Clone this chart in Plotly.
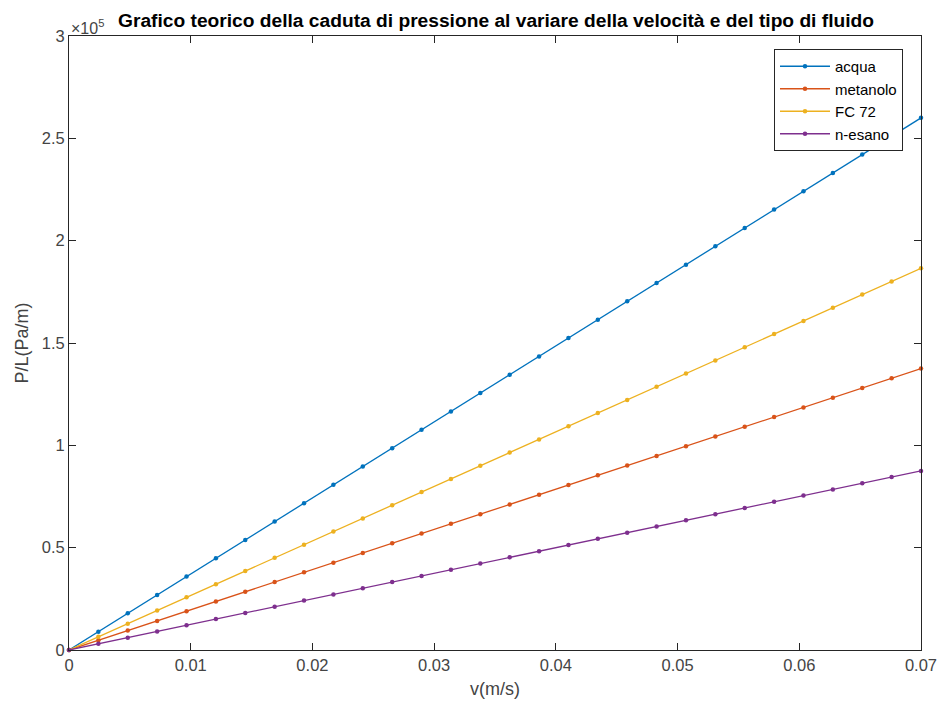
import plotly.graph_objects as go

v = [0, 0.0024138, 0.0048276, 0.0072414, 0.0096552, 0.012069, 0.0144828, 0.0168966,
     0.0193103, 0.0217241, 0.0241379, 0.0265517, 0.0289655, 0.0313793, 0.0337931,
     0.0362069, 0.0386207, 0.0410345, 0.0434483, 0.0458621, 0.0482759, 0.0506897,
     0.0531034, 0.0555172, 0.057931, 0.0603448, 0.0627586, 0.0651724, 0.0675862, 0.07]

acqua = [0, 8966, 17931, 26897, 35862, 44828, 53793, 62759, 71724, 80690, 89655, 98621,
         107586, 116552, 125517, 134483, 143448, 152414, 161379, 170345, 179310, 188276,
         197241, 206207, 215172, 224138, 233103, 242069, 251034, 260000]
metanolo = [0, 4741, 9483, 14224, 18966, 23707, 28448, 33190, 37931, 42672, 47414, 52155,
            56897, 61638, 66379, 71121, 75862, 80603, 85345, 90086, 94828, 99569, 104310,
            109052, 113793, 118534, 123276, 128017, 132759, 137500]
fc72 = [0, 6431, 12862, 19293, 25724, 32155, 38586, 45017, 51448, 57879, 64310, 70741,
        77172, 83603, 90034, 96466, 102897, 109328, 115759, 122190, 128621, 135052, 141483,
        147914, 154345, 160776, 167207, 173638, 180069, 186500]
nesano = [0, 3017, 6034, 9052, 12069, 15086, 18103, 21121, 24138, 27155, 30172, 33190,
          36207, 39224, 42241, 45259, 48276, 51293, 54310, 57328, 60345, 63362, 66379,
          69397, 72414, 75431, 78448, 81466, 84483, 87500]

series_names = ["acqua", "metanolo", "FC 72", "n-esano"]
series_values = [acqua, metanolo, fc72, nesano]
colors = ["#0072BD", "#D95319", "#EDB120", "#7E2F8E"]

y_tickvals = [0, 50000, 100000, 150000, 200000, 250000, 300000]
y_ticktext = ["0", "0.5", "1", "1.5", "2", "2.5", "3"]
x_tickvals = [0, 0.01, 0.02, 0.03, 0.04, 0.05, 0.06, 0.07]
x_ticktext = ["0", "0.01", "0.02", "0.03", "0.04", "0.05", "0.06", "0.07"]

FONT = "Liberation Sans, Arial, Helvetica, sans-serif"
AX = "#262626"
TICKC = "#444444"

W, H = 941, 707
L, R, T, B = 69, 20, 36, 57

fig = go.Figure()
for name, vals, c in zip(series_names, series_values, colors):
    fig.add_trace(go.Scatter(
        x=v, y=vals, name=name, mode="lines+markers",
        line=dict(color=c, width=1.3),
        marker=dict(color=c, size=4.5),
        cliponaxis=False,
    ))

axis_common = dict(
    showgrid=False, zeroline=False, showline=True, linecolor=AX, linewidth=1,
    mirror="ticks", ticks="inside", ticklen=7, tickcolor=AX, tickwidth=1,
    tickfont=dict(family=FONT, size=16.5, color=TICKC), automargin=False,
)

fig.update_layout(
    width=W, height=H,
    margin=dict(l=L, r=R, t=T, b=B),
    paper_bgcolor="white", plot_bgcolor="white",
    font=dict(family=FONT, color=AX),
    title=dict(
        text="<b>Grafico teorico della caduta di pressione al variare della velocità e del tipo di fluido</b>",
        x=496 / W, xanchor="center", y=1 - 20 / H, yanchor="middle",
        font=dict(family=FONT, size=19.2, color="black"),
    ),
    xaxis=dict(range=[0, 0.07], tickvals=x_tickvals, ticktext=x_ticktext,
               title=dict(text="v(m/s)", font=dict(family=FONT, size=18, color=TICKC), standoff=9),
               **axis_common),
    yaxis=dict(range=[0, 300000], tickvals=y_tickvals, ticktext=y_ticktext,
               title=dict(text="P/L(Pa/m)", font=dict(family=FONT, size=18, color=TICKC), standoff=8),
               **axis_common),
    legend=dict(
        x=(774 - L) / (W - L - R), y=(H - B - 49) / (H - T - B), xanchor="left", yanchor="top",
        bordercolor=AX, borderwidth=1, bgcolor="white",
        font=dict(family=FONT, size=15, color="black"),
        tracegroupgap=0, itemwidth=50,
    ),
    showlegend=True,
)

fig.add_annotation(
    text="×10<sup>5</sup>", xref="paper", yref="paper", x=0.0, y=1.0,
    xanchor="left", yanchor="bottom", showarrow=False,
    font=dict(family=FONT, size=16, color=TICKC), yshift=-3,
)

fig.write_html("out.html", config={"displayModeBar": False},
               post_script="document.body.style.margin='0';")
